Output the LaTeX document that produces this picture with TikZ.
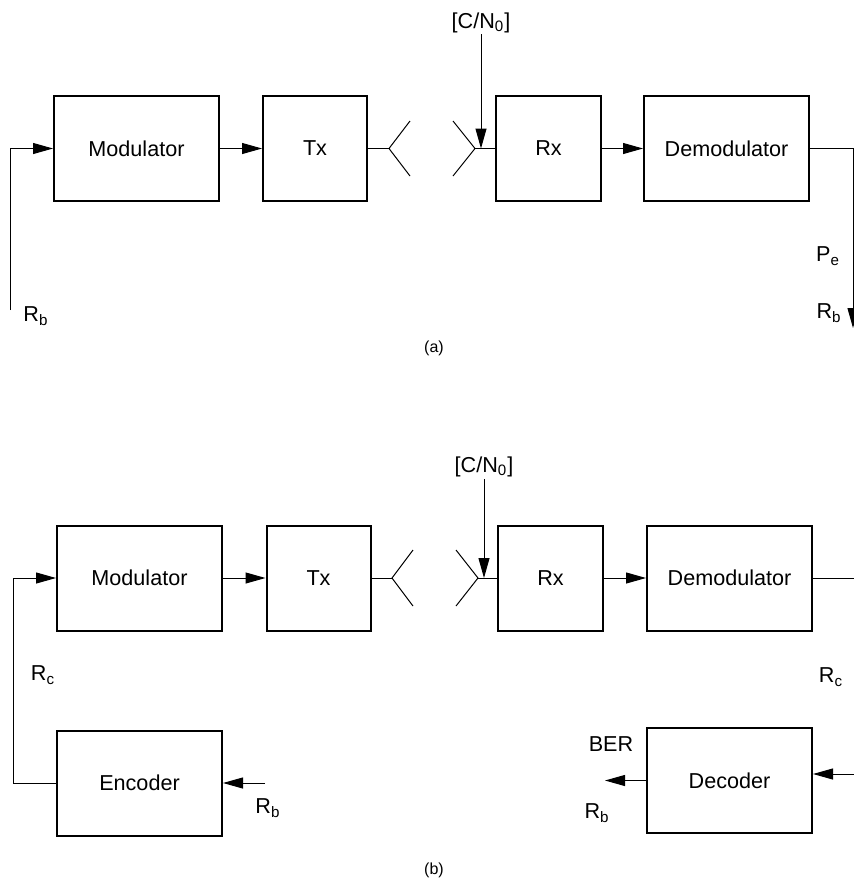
\documentclass[tikz,border=0pt]{standalone}
\usepackage{fontspec}
\setmainfont{Liberation Sans}
\usetikzlibrary{arrows.meta}
\begin{document}
\begin{tikzpicture}[x=0.5pt,y=-0.5pt,
  blk/.style={draw, line width=1pt, minimum height=52.5pt, inner sep=0pt,
    font=\fontsize{10.8}{13}\selectfont},
  wide/.style={blk, minimum width=82.5pt},
  narrow/.style={blk, minimum width=52pt},
  conn/.style={line width=0.5pt},
  arr/.style={conn, -{Triangle[length=10pt,width=5.5pt]}},
  lab/.style={inner sep=0pt, font=\fontsize{10.8}{13}\selectfont},
  figcap/.style={inner sep=0pt, font=\fontsize{8}{10}\selectfont}]
\useasboundingbox (0,0) rectangle (854,879);

% ---------- (a) ----------
\node[wide]   (mod)  at (136.5,148.5) {Modulator};
\node[narrow] (tx)   at (315,148.5)   {Tx};
\node[narrow, minimum width=52.5pt] (rx) at (548.5,148.5) {Rx};
\node[wide]   (dem)  at (726.5,148.5) {Demodulator};

\coordinate (inA) at (10,310);
\draw[arr] (inA) |- (mod.west);
\draw[arr] (mod.east) -- (tx.west);
\draw[arr] (rx.east) -- (dem.west);

\coordinate (tantA) at (389,148.5);
\coordinate (tantA1) at (410,121);
\coordinate (tantA2) at (410,176);
\draw[conn] (tx.east) -- (tantA);
\draw[conn] (tantA1) -- (tantA) -- (tantA2);

\coordinate (rantA) at (475,148.5);
\coordinate (rantA1) at (453,121);
\coordinate (rantA2) at (453,176);
\draw[conn] (rx.west) -- (rantA);
\draw[conn] (rantA1) -- (rantA) -- (rantA2);

\node[lab] (cnA) at (481,23) {[C/N\textsubscript{0}]};
\coordinate (cnAend) at (481,148.5);
\draw[arr] (cnA.south |- 0,34) -- (cnAend);

\coordinate (outA) at (853,328);
\draw[arr] (dem.east) -| (outA);

\node[lab] (rbA1) at (36,316) {R\textsubscript{b}};
\node[lab] (peA)  at (828,256) {P\textsubscript{e}};
\node[lab] (rbA2) at (829,313) {R\textsubscript{b}};
\node[figcap] (capA) at (434,348) {(a)};

% ---------- (b) ----------
\node[wide]   (modb) at (139.5,578) {Modulator};
\node[narrow] (txb)  at (318.5,578) {Tx};
\node[narrow, minimum width=52.5pt] (rxb) at (550.5,578) {Rx};
\node[wide]   (demb) at (729.5,578) {Demodulator};
\node[wide]   (enc)  at (139.5,783) {Encoder};
\node[wide]   (dec)  at (729.5,780.5) {Decoder};

\coordinate (encL) at (13,783);
\draw[arr] (enc.west) -- (encL) |- (modb.west);
\draw[arr] (modb.east) -- (txb.west);
\draw[arr] (rxb.east) -- (demb.west);

\coordinate (tantB) at (392,578);
\coordinate (tantB1) at (413,550);
\coordinate (tantB2) at (413,606);
\draw[conn] (txb.east) -- (tantB);
\draw[conn] (tantB1) -- (tantB) -- (tantB2);

\coordinate (rantB) at (478,578);
\coordinate (rantB1) at (456,550);
\coordinate (rantB2) at (456,606);
\draw[conn] (rxb.west) -- (rantB);
\draw[conn] (rantB1) -- (rantB) -- (rantB2);

\node[lab] (cnB) at (484,467) {[C/N\textsubscript{0}]};
\coordinate (cnBend) at (484,578);
\draw[arr] (cnB.south |- 0,479) -- (cnBend);

\coordinate (outB) at (854,578);
\draw[conn] (demb.east) -- (outB);

\coordinate (encIn) at (265,783);
\draw[arr] (encIn) -- (enc.east);

\coordinate (decIn) at (854,774);
\draw[arr] (decIn) -- (dec.east |- decIn);
\coordinate (decOut) at (605,780.5);
\draw[arr] (dec.west) -- (decOut);

\node[lab] (rcB1) at (43,675) {R\textsubscript{c}};
\node[lab] (rbB1) at (268,808) {R\textsubscript{b}};
\node[lab] (rcB2) at (831,677) {R\textsubscript{c}};
\node[lab] (ber)  at (611,744) {BER};
\node[lab] (rbB2) at (597,813) {R\textsubscript{b}};
\node[figcap] (capB) at (434,870) {(b)};
\end{tikzpicture}
\end{document}
